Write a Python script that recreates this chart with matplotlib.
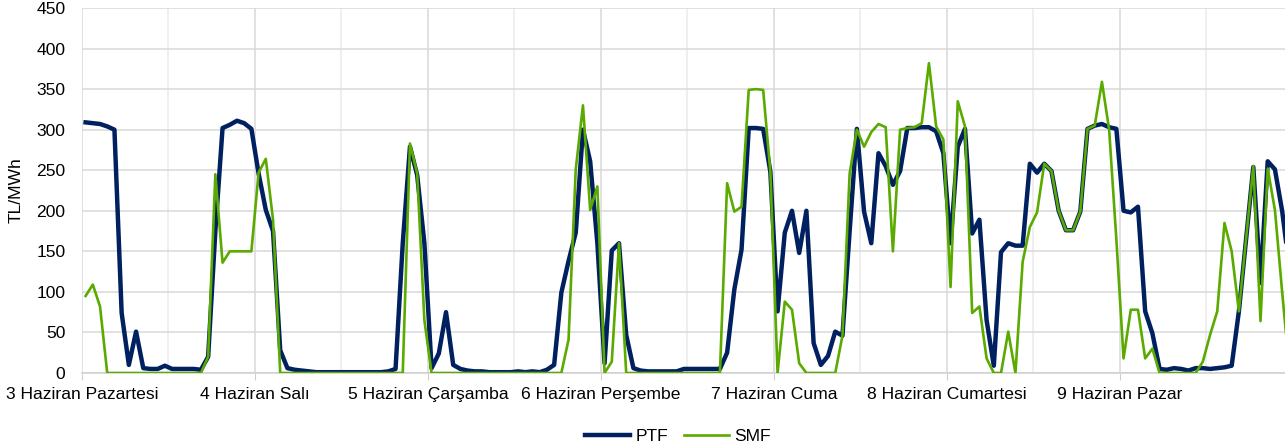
import numpy as np
import matplotlib
matplotlib.use("Agg")
import matplotlib.pyplot as plt
from matplotlib.ticker import MultipleLocator

plt.rcParams['font.family'] = ['Liberation Sans', 'DejaVu Sans']

# gün etiketleri (saatlik veri, 7 gün)
gunler = ["3 Haziran Pazartesi", "4 Haziran Salı", "5 Haziran Çarşamba",
          "6 Haziran Perşembe", "7 Haziran Cuma", "8 Haziran Cumartesi",
          "9 Haziran Pazar"]

# PTF (TL/MWh), her gün 24 saat
ptf_g1 = [309, 308, 307, 304, 300, 74, 10, 51, 6, 5, 5, 9, 5, 5, 5, 5, 4, 20, 175, 302, 306, 311, 308, 301]
ptf_g2 = [246, 201, 175, 28, 6, 4, 3, 2, 1, 1, 1, 1, 1, 1, 1, 1, 1, 1, 2, 5, 160, 279, 244, 160]
ptf_g3 = [6, 24, 75, 10, 5, 3, 2, 2, 1, 1, 1, 1, 2, 1, 2, 1, 4, 10, 99, 138, 173, 300, 261, 160]
ptf_g4 = [12, 151, 160, 47, 6, 3, 2, 2, 2, 2, 2, 5, 5, 5, 5, 5, 5, 25, 103, 152, 302, 302, 301, 248]
ptf_g5 = [76, 173, 200, 148, 200, 37, 10, 21, 51, 46, 175, 301, 199, 160, 271, 255, 232, 249, 302, 302, 303, 303, 298, 271]
ptf_g6 = [160, 279, 301, 172, 189, 65, 9, 149, 160, 157, 157, 258, 247, 258, 249, 200, 176, 176, 199, 301, 305, 307, 303, 301]
ptf_g7 = [200, 198, 205, 76, 49, 5, 4, 6, 5, 3, 6, 6, 5, 6, 7, 9, 76, 165, 254, 111, 261, 251, 200, 130]

# SMF (TL/MWh)
smf_g1 = [95, 109, 82, 0, 0, 0, 0, 0, 0, 0, 0, 0, 0, 0, 0, 0, 0, 20, 245, 136, 150, 150, 150, 150]
smf_g2 = [247, 264, 189, 0, 0, 0, 0, 0, 0, 0, 0, 0, 0, 0, 0, 0, 0, 0, 0, 0, 0, 283, 246, 65]
smf_g3 = [0, 0, 0, 0, 0, 0, 0, 0, 0, 0, 0, 0, 0, 0, 0, 0, 0, 0, 0, 41, 251, 330, 201, 230]
smf_g4 = [0, 14, 160, 0, 0, 0, 0, 0, 0, 0, 0, 0, 0, 0, 0, 0, 0, 234, 199, 205, 349, 350, 349, 248]
smf_g5 = [0, 88, 78, 12, 0, 0, 0, 0, 0, 46, 246, 300, 279, 297, 307, 303, 150, 300, 302, 303, 308, 382, 304, 288]
smf_g6 = [106, 335, 304, 74, 82, 18, 0, 0, 51, 0, 137, 180, 198, 258, 249, 200, 176, 176, 199, 301, 305, 359, 300, 165]
smf_g7 = [18, 78, 78, 18, 30, 0, 0, 0, 0, 0, 0, 14, 47, 76, 185, 150, 76, 165, 255, 64, 252, 201, 100, 5]

ptf = np.array(ptf_g1 + ptf_g2 + ptf_g3 + ptf_g4 + ptf_g5 + ptf_g6 + ptf_g7)
smf = np.array(smf_g1 + smf_g2 + smf_g3 + smf_g4 + smf_g5 + smf_g6 + smf_g7)
saat = np.arange(len(ptf)) + 0.5

fig = plt.figure(figsize=(12.85, 4.46), dpi=100)
ax = fig.add_axes([82/1285, 1 - 373/446, 1 - 82/1285, 365/446])

ax.plot(saat, ptf, color="#002060", lw=3.2, label="PTF", solid_joinstyle="round", zorder=3)
ax.plot(saat, smf, color="#5aaa00", lw=1.9, label="SMF", zorder=4)

ax.set_xlim(0, (1285 - 82) / 7.208)
ax.set_ylim(0, 450)
ax.yaxis.set_major_locator(MultipleLocator(50))
ax.set_xticks(np.arange(7) * 24)
ax.set_xticklabels(gunler)
ax.xaxis.set_minor_locator(MultipleLocator(12))

ax.grid(axis="y", color="#d9d9d9", lw=1.1)
ax.grid(axis="x", which="major", color="#d9d9d9", lw=1.1)
ax.grid(axis="x", which="minor", color="#ebebeb", lw=1.1)
ax.set_axisbelow(True)

for s in ["top", "right", "left"]:
    ax.spines[s].set_visible(False)
ax.spines["bottom"].set_color("#d0d0d0")
ax.spines["bottom"].set_linewidth(1.1)

ax.tick_params(axis="x", which="major", length=5, color="#d0d0d0", labelsize=12.6, pad=5)
ax.tick_params(axis="x", which="minor", length=0)
ax.tick_params(axis="y", length=0, labelsize=12.6, pad=12)
ax.set_ylabel("TL/MWh", fontsize=12.6, labelpad=9)

# gösterge, grafiğin ortasına göre biraz sağda
fig.legend(loc="lower center", bbox_to_anchor=(0.5276, -0.03), ncol=2, frameon=False,
           fontsize=12.6, handlelength=2.6, columnspacing=0.9, handletextpad=0.3)

fig.savefig("out.png", dpi=100)
